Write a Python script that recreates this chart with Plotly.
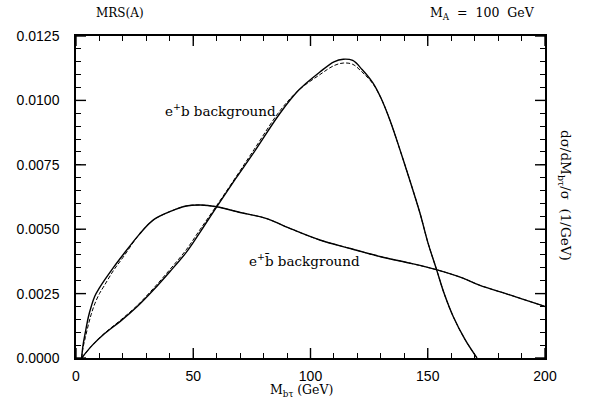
import plotly.graph_objects as go

# e+ b background (solid and dashed)
x_eb = [2.4, 7, 12, 19, 26, 33, 40, 47, 53, 60, 68, 76, 87, 95, 104, 110, 114, 118, 122,
        126.6, 130, 134, 138.2, 142, 146.7, 150, 153.8, 157, 160.9, 166, 171]
y_eb_solid = [0.0, 0.0005, 0.00093, 0.00143, 0.00199, 0.00264, 0.00335, 0.0041, 0.0049,
              0.00587, 0.00695, 0.0080, 0.0095, 0.0104, 0.0111, 0.0115, 0.0116, 0.01155,
              0.0112, 0.01068, 0.0101, 0.0092, 0.00807, 0.0070, 0.00562, 0.0045, 0.00342,
              0.0025, 0.0016, 0.0007, 0.0]
y_eb_dash = [0.0, 0.0005, 0.00095, 0.00147, 0.00203, 0.0027, 0.00343, 0.0042, 0.0050,
             0.00592, 0.0070, 0.0081, 0.0096, 0.0104, 0.0110, 0.01135, 0.01145, 0.0114,
             0.0111, 0.01065, 0.0101, 0.0092, 0.00807, 0.0070, 0.00562, 0.0045, 0.00342,
             0.0025, 0.0016, 0.0007, 0.0]

# e+ bbar background (solid and dashed)
x_ebb = [2.4, 3, 4, 5.3, 6.5, 8, 10, 12, 16, 20, 27, 33, 40, 47, 53, 60, 70, 81, 92, 104,
         117, 130, 142, 154, 165, 172, 185, 198, 200]
y_ebb_solid = [0.0, 0.0005, 0.0010, 0.0016, 0.0020, 0.0024, 0.00272, 0.0030, 0.00352, 0.0040,
               0.0048, 0.00536, 0.00568, 0.0059, 0.00594, 0.00587, 0.00565, 0.00542, 0.0050,
               0.00458, 0.00425, 0.00393, 0.00369, 0.00342, 0.0031, 0.00283, 0.00245,
               0.00206, 0.0020]
y_ebb_dash = [0.0, 0.0004, 0.0008, 0.0013, 0.0017, 0.0021, 0.0025, 0.0028, 0.00340, 0.0039,
              0.0048, 0.00536, 0.00568, 0.0059, 0.00594, 0.00587, 0.00565, 0.00542, 0.0050,
              0.00458, 0.00425, 0.00393, 0.00369, 0.00342, 0.0031, 0.00283, 0.00245,
              0.00206, 0.0020]

x_major_ticks = [0, 50, 100, 150, 200]
y_major_ticks = [0.0, 0.0025, 0.0050, 0.0075, 0.0100, 0.0125]
x_minor_step = 10
y_minor_step = 0.0005
x_range = [0, 200]
y_range = [0, 0.0125]

SERIF = "DejaVu Serif"
SANS = "Liberation Sans"

fig = go.Figure()
for xs, ys in [(x_eb, y_eb_dash), (x_ebb, y_ebb_dash)]:
    fig.add_trace(go.Scatter(x=xs, y=ys, mode="lines",
                             line=dict(color="black", width=1, dash="4px,2px", shape="spline",
                                       smoothing=1),
                             showlegend=False, hoverinfo="skip"))
for xs, ys in [(x_eb, y_eb_solid), (x_ebb, y_ebb_solid)]:
    fig.add_trace(go.Scatter(x=xs, y=ys, mode="lines",
                             line=dict(color="black", width=1.4, shape="spline", smoothing=1),
                             showlegend=False, hoverinfo="skip"))

fig.update_layout(
    xaxis=dict(range=x_range, tickmode="array", tickvals=x_major_ticks,
               ticktext=[str(v) for v in x_major_ticks],
               showgrid=False, zeroline=False, showline=True, linecolor="black", linewidth=1.5,
               mirror=True, ticks="", ticklabelstandoff=4,
               tickfont=dict(family=SANS, size=14, color="black")),
    yaxis=dict(range=y_range, tickmode="array", tickvals=y_major_ticks,
               ticktext=[f"{v:.4f}" for v in y_major_ticks],
               showgrid=False, zeroline=False, showline=True, linecolor="black", linewidth=1.5,
               mirror=True, ticks="", ticklabelstandoff=12,
               tickfont=dict(family=SANS, size=14, color="black")),
    # overlay axes carrying the minor tick marks
    xaxis2=dict(range=x_range, overlaying="x", anchor="y", side="bottom",
                tickmode="linear", tick0=0, dtick=x_minor_step, showticklabels=False,
                showgrid=False, zeroline=False, showline=False, mirror="ticks",
                ticks="inside", ticklen=5, tickwidth=1.2, tickcolor="#000000"),
    yaxis2=dict(range=y_range, overlaying="y", anchor="x", side="left",
                tickmode="linear", tick0=0, dtick=y_minor_step, showticklabels=False,
                showgrid=False, zeroline=False, showline=False, mirror="ticks",
                ticks="inside", ticklen=5, tickwidth=1.2, tickcolor="#000000"),
)
fig.add_trace(go.Scatter(x=x_range, y=y_range, xaxis="x2", yaxis="y2", mode="lines",
                         line=dict(width=0, color="rgba(0,0,0,0)"), showlegend=False,
                         hoverinfo="skip"))

# major tick marks, 10 px long, inside on all four sides, placed by the axis scales
tick_line = dict(color="black", width=1.4)
for v in x_major_ticks:
    fig.add_shape(type="line", xref="x", yref="y domain", x0=v, x1=v, ysizemode="pixel",
                  yanchor=0, y0=0, y1=10, line=tick_line)
    fig.add_shape(type="line", xref="x", yref="y domain", x0=v, x1=v, ysizemode="pixel",
                  yanchor=1, y0=0, y1=-10, line=tick_line)
for v in y_major_ticks:
    fig.add_shape(type="line", xref="x domain", yref="y", y0=v, y1=v, xsizemode="pixel",
                  xanchor=0, x0=0, x1=10, line=tick_line)
    fig.add_shape(type="line", xref="x domain", yref="y", y0=v, y1=v, xsizemode="pixel",
                  xanchor=1, x0=0, x1=-10, line=tick_line)

fig.add_annotation(x=37, y=0.00963, xref="x", yref="y", xanchor="left", yanchor="middle",
                   text="e<sup>+</sup>b background", showarrow=False,
                   font=dict(family=SERIF, size=13.5, color="black"))
fig.add_annotation(x=73, y=0.0038, xref="x", yref="y", xanchor="left", yanchor="middle",
                   text="e<sup>+</sup>b\u0304 background", showarrow=False,
                   font=dict(family=SERIF, size=13.5, color="black"))
fig.add_annotation(x=(301 - 76) / 469, y=-(390 - 358) / 322, xref="paper", yref="paper",
                   text="M<sub>bτ</sub> (GeV)", showarrow=False, xanchor="center",
                   yanchor="middle", font=dict(family=SERIF, size=12.5, color="black"))
fig.add_annotation(x=(120 - 76) / 469, y=1 + (36 - 13) / 322, xref="paper", yref="paper",
                   text="MRS(A)", showarrow=False, xanchor="center", yanchor="middle",
                   font=dict(family=SERIF, size=12, color="black"))
fig.add_annotation(x=(482 - 76) / 469, y=1 + (36 - 13) / 322, xref="paper", yref="paper",
                   text="M<sub>A</sub>\u00a0 = \u00a0100\u00a0 GeV", showarrow=False,
                   xanchor="center", yanchor="middle",
                   font=dict(family=SERIF, size=12.5, color="black"))
fig.add_annotation(x=(565 - 76) / 469, y=1 - (195 - 36) / 322, xref="paper", yref="paper",
                   text="dσ/dM<sub>bτ</sub>/σ  (1/GeV)", showarrow=False, textangle=90,
                   xanchor="center", yanchor="middle",
                   font=dict(family=SERIF, size=13.5, color="black"))

fig.update_layout(width=589, height=405, margin=dict(l=76, r=44, t=36, b=47),
                  paper_bgcolor="white", plot_bgcolor="white")
# remove the default page margin so the figure sits at the window's corner
fig.write_html("out.html", config={"displayModeBar": False},
               post_script="document.body.style.margin='0';document.body.style.overflow='hidden';")
